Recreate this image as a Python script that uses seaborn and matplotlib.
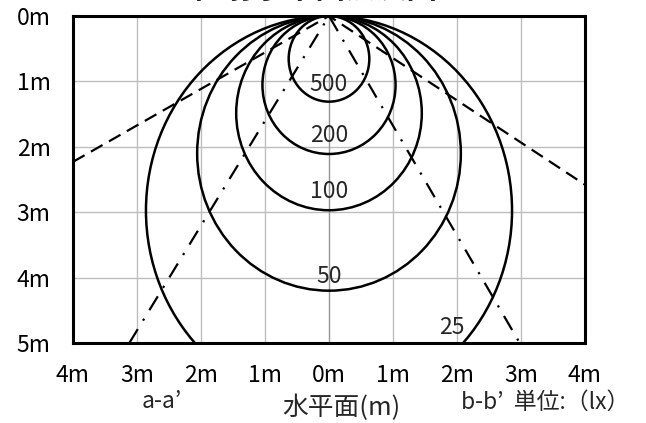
import numpy as np
import pandas as pd
import matplotlib
matplotlib.use('Agg')
import matplotlib.pyplot as plt
from matplotlib.patches import Ellipse
import seaborn as sns

# iso-illuminance curves (lx): depth of lowest point and max half-width (m)
lux_levels = ['500', '200', '100', '50', '25']
curve_depth = [1.31, 2.11, 2.97, 4.20, 5.95]
curve_halfwidth = [0.63, 1.04, 1.45, 2.06, 2.86]

# label positions for each curve
label_x = [0.0, 0.0, 0.0, 0.0, 1.92]
label_y = [1.05, 1.82, 2.69, 3.99, 4.76]

# beam lines from the lamp (origin): end points
dash_x = [-4.0, 0.0, 4.0]
dash_y = [2.23, 0.0, 2.58]
dashdot_x = [-3.12, 0.0, 2.98]
dashdot_y = [5.0, 0.0, 5.0]

x_ticks = [-4, -3, -2, -1, 0, 1, 2, 3, 4]
x_ticklabels = ['4m', '3m', '2m', '1m', '0m', '1m', '2m', '3m', '4m']
y_ticks = [0, 1, 2, 3, 4, 5]
y_ticklabels = ['0m', '1m', '2m', '3m', '4m', '5m']

title = '直射水平面照度図'


def main():
    sns.set_theme(style='white')
    plt.rcParams['font.family'] = ['Noto Sans CJK JP', 'DejaVu Sans']

    fig = plt.figure(figsize=(6.46, 4.23), dpi=100)
    ax = fig.add_axes([73 / 646, 1 - 343 / 423, 512 / 646, 327 / 423])

    # grid
    ax.set_xlim(-4, 4)
    ax.set_ylim(5, 0)
    ax.set_xticks(x_ticks)
    ax.set_xticklabels(x_ticklabels)
    ax.set_yticks(y_ticks)
    ax.set_yticklabels(y_ticklabels)
    ax.grid(True, color='#bdbdbd', lw=1.0, zorder=0)
    ax.set_axisbelow(True)
    ax.tick_params(length=0, labelsize=16.5, labelcolor='black')
    ax.tick_params(axis='x', pad=15)
    ax.tick_params(axis='y', pad=16)
    for sp in ax.spines.values():
        sp.set_color('black')
        sp.set_linewidth(2.2)

    # iso-lux curves
    for lvl, d, hw, lx, ly in zip(lux_levels, curve_depth, curve_halfwidth, label_x, label_y):
        ax.add_patch(Ellipse((0, d / 2), width=2 * hw, height=d, fill=False,
                             ec='black', lw=1.8, zorder=3))
        ax.text(lx, ly, lvl, ha='center', va='center', fontsize=16.5, zorder=4)

    # centre line
    sns.lineplot(x=[0, 0], y=[0, 5], sort=False, color='black', lw=2.3, ax=ax, zorder=3)

    # beam lines
    sns.lineplot(x=dash_x, y=dash_y, sort=False, color='black', lw=1.6,
                 linestyle=(0, (6.0, 3.3)), ax=ax, zorder=3)
    sns.lineplot(x=dashdot_x, y=dashdot_y, sort=False, color='black', lw=1.6,
                 linestyle=(0, (7.3, 4.5, 1.0, 4.5)), ax=ax, zorder=3)

    ax.set_xlim(-4, 4)
    ax.set_ylim(5, 0)
    ax.set_xlabel('')
    ax.set_ylabel('')

    # texts below the chart
    fig.text(341 / 646, 1 - 408 / 423, '水平面(m)', ha='center', va='center', fontsize=18.5)
    fig.text(162 / 646, 1 - 401 / 423, 'a-a’', ha='center', va='center', fontsize=16.5)
    fig.text(461 / 646, 1 - 402 / 423, 'b-b’  単位:（lx）', ha='left', va='center', fontsize=16.5)

    # title (partly cut off at the top, as in the source)
    fig.text(315 / 646, 1 - 5 / 423, title, ha='center', va='bottom',
             fontsize=22, fontweight='bold')

    fig.savefig('out.png', dpi=100)
    plt.close(fig)


if __name__ == '__main__':
    main()
